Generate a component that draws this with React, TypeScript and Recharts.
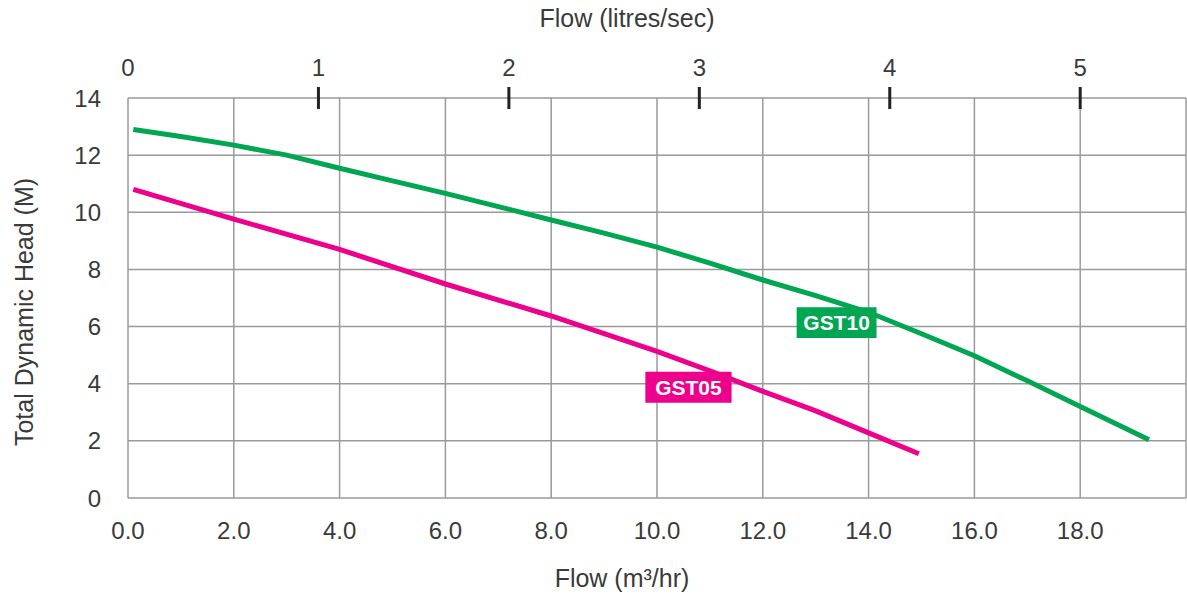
import { CartesianGrid, Label, Line, LineChart, ReferenceArea, XAxis, YAxis } from "recharts";

// flow in m3/hr, head in metres
const gst10Flow = [0.1, 1, 2, 3, 4, 5, 6, 7, 8, 9, 10, 11, 12, 13, 14, 15, 16, 17, 18, 19.3];
const gst10Head = [12.9, 12.65, 12.35, 12.0, 11.54, 11.1, 10.66, 10.2, 9.73, 9.27, 8.78, 8.22, 7.63, 7.08, 6.5, 5.75, 4.98, 4.1, 3.2, 2.04];
const gst05Flow = [0.1, 2, 4, 6, 8, 10, 11, 12, 13, 14, 14.95];
const gst05Head = [10.8, 9.76, 8.7, 7.49, 6.37, 5.13, 4.45, 3.73, 3.05, 2.28, 1.55];

const flowTicks = [0, 2, 4, 6, 8, 10, 12, 14, 16, 18, 20];
const headTicks = [0, 2, 4, 6, 8, 10, 12, 14];
const litreTicks = [0, 1, 2, 3, 4, 5];

const seriesNames = ["GST10", "GST05"];
const seriesColors = ["#00a651", "#ec008c"];
// tag boxes, in chart units (flow, head)
const tagBoxes = [
  { x1: 12.64, x2: 14.15, y1: 5.6, y2: 6.68 },
  { x1: 9.78, x2: 11.41, y1: 3.33, y2: 4.42 },
];

const M3H_PER_LS = 3.6;

const gst10 = gst10Flow.map((flow, i) => ({ flow, head: gst10Head[i] }));
const gst05 = gst05Flow.map((flow, i) => ({ flow, head: gst05Head[i] }));
// same curve in litres/sec, only there so the top axis has data
const gst10Litres = gst10Flow.map((flow, i) => ({ flow: flow / M3H_PER_LS, head: gst10Head[i] }));

const FONT = "'Liberation Sans', Arial, Helvetica, sans-serif";
const TEXT = "#3a3a3a";
const GRID = "#9a9a9a";
const TICK_SIZE = 24;
const TITLE_SIZE = 25;

const LitreTick = (props: any) => {
  const { x, y, payload } = props;
  return (
    <g>
      {payload.value > 0 && (
        <line x1={x} x2={x} y1={y - 11} y2={y + 11} stroke="#222" strokeWidth={3} />
      )}
      <text x={x} y={y - 22} textAnchor="middle" fill={TEXT} fontSize={TICK_SIZE} fontFamily={FONT}>
        {payload.value}
      </text>
    </g>
  );
};

const App = () => {
  return (
    <div style={{ position: "absolute", left: 0, top: 0 }}>
      <LineChart
        width={1187}
        height={594}
        margin={{ top: 0, right: 1, left: 0, bottom: 0 }}
        style={{ fontFamily: FONT }}
      >
        <CartesianGrid stroke={GRID} strokeWidth={1.5} />
        <XAxis
          dataKey="flow"
          type="number"
          domain={[0, 20]}
          ticks={flowTicks}
          tickFormatter={(v: number) => (v === 20 ? "" : v.toFixed(1))}
          height={96}
          axisLine={false}
          tickLine={false}
          tickSize={0}
          tickMargin={24}
          tick={{ fill: TEXT, fontSize: TICK_SIZE, fontFamily: FONT }}
          interval={0}
        >
          <Label
            content={(p: any) => (
              <text
                x={622}
                y={p.viewBox.y + 89}
                textAnchor="middle"
                fill={TEXT}
                fontSize={TITLE_SIZE}
                fontFamily={FONT}
              >
                Flow (m³/hr)
              </text>
            )}
          />
        </XAxis>
        <XAxis
          xAxisId="top"
          dataKey="flow"
          orientation="top"
          type="number"
          domain={[0, 20 / M3H_PER_LS]}
          ticks={litreTicks}
          height={98}
          axisLine={false}
          tickLine={false}
          tickSize={0}
          tickMargin={0}
          tick={LitreTick}
          interval={0}
          allowDataOverflow
        >
          <Label
            content={() => (
              <text x={627} y={27} textAnchor="middle" fill={TEXT} fontSize={TITLE_SIZE} fontFamily={FONT}>
                Flow (litres/sec)
              </text>
            )}
          />
        </XAxis>
        <YAxis
          type="number"
          domain={[0, 14]}
          ticks={headTicks}
          width={128}
          axisLine={false}
          tickLine={false}
          tickSize={0}
          tickMargin={27}
          tick={{ fill: TEXT, fontSize: TICK_SIZE, fontFamily: FONT }}
          interval={0}
        >
          <Label
            content={() => (
              <text
                x={0}
                y={0}
                transform="translate(33, 312) rotate(-90)"
                textAnchor="middle"
                fill={TEXT}
                fontSize={TITLE_SIZE}
                fontFamily={FONT}
              >
                Total Dynamic Head (M)
              </text>
            )}
          />
        </YAxis>
        <Line
          xAxisId="top"
          data={gst10Litres}
          dataKey="head"
          type="linear"
          stroke="none"
          strokeWidth={0}
          dot={false}
          activeDot={false}
          legendType="none"
          isAnimationActive={false}
        />
        <Line
          data={gst10}
          dataKey="head"
          name={seriesNames[0]}
          type="linear"
          stroke={seriesColors[0]}
          strokeWidth={5}
          dot={false}
          activeDot={false}
          isAnimationActive={false}
        />
        <Line
          data={gst05}
          dataKey="head"
          name={seriesNames[1]}
          type="linear"
          stroke={seriesColors[1]}
          strokeWidth={5}
          dot={false}
          activeDot={false}
          isAnimationActive={false}
        />
        {tagBoxes.map((b, i) => (
          <ReferenceArea
            key={seriesNames[i]}
            x1={b.x1}
            x2={b.x2}
            y1={b.y1}
            y2={b.y2}
            fill={seriesColors[i]}
            fillOpacity={1}
            stroke="none"
            zIndex={700}
            label={{
              value: seriesNames[i],
              position: "center",
              fill: "#fff",
              fontSize: 21,
              fontWeight: "bold",
              fontFamily: FONT,
            }}
          />
        ))}
      </LineChart>
    </div>
  );
};

export default App;
